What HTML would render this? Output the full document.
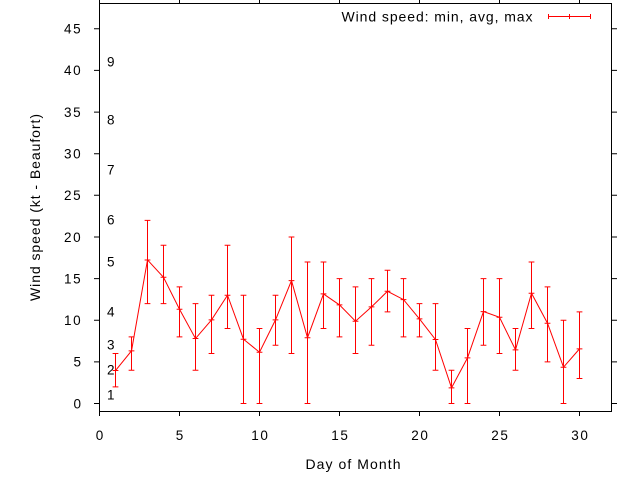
<!DOCTYPE html>
<html>
<head>
<meta charset="utf-8">
<style>
  html, body { margin: 0; padding: 0; background: #fff; }
  svg { display: block; }
  text { font-family: "Liberation Sans", "DejaVu Sans", sans-serif; font-size: 14px; fill: #000; }
  text.n { font-size: 13.5px; }
</style>
</head>
<body>
<svg width="640" height="480" viewBox="0 0 640 480" xmlns="http://www.w3.org/2000/svg">
  <rect x="0" y="0" width="640" height="480" fill="#fff"/>

  <!-- border -->
  <rect x="99.5" y="3.5" width="512" height="408" fill="none" stroke="#000" stroke-width="1"/>

  <!-- ticks -->
  <g stroke="#000" stroke-width="1">
    <path d="M94 403.5H99 M94 361.9H99 M94 320.2H99 M94 278.6H99 M94 237H99 M94 195.3H99 M94 153.7H99 M94 112.1H99 M94 70.4H99 M94 28.8H99"/>
    <path d="M612 403.5H617 M612 361.9H617 M612 320.2H617 M612 278.6H617 M612 237H617 M612 195.3H617 M612 153.7H617 M612 112.1H617 M612 70.4H617 M612 28.8H617"/>
    <path d="M99.5 412V416 M179.5 412V416 M259.5 412V416 M339.5 412V416 M419.5 412V416 M499.5 412V416 M579.5 412V416"/>
    <path d="M99.5 0V3 M179.5 0V3 M259.5 0V3 M339.5 0V3 M419.5 0V3 M499.5 0V3 M579.5 0V3"/>
  </g>

  <!-- y tick labels -->
  <text class="n" x="81" y="408.3" text-anchor="end">0</text>
  <text class="n" x="81" y="366.7" text-anchor="end">5</text>
  <text class="n" x="64" y="325.0" textLength="16.7" lengthAdjust="spacing">10</text>
  <text class="n" x="64" y="283.4" textLength="16.7" lengthAdjust="spacing">15</text>
  <text class="n" x="64" y="241.8" textLength="16.7" lengthAdjust="spacing">20</text>
  <text class="n" x="64" y="200.1" textLength="16.7" lengthAdjust="spacing">25</text>
  <text class="n" x="64" y="158.5" textLength="16.7" lengthAdjust="spacing">30</text>
  <text class="n" x="64" y="116.9" textLength="16.7" lengthAdjust="spacing">35</text>
  <text class="n" x="64" y="75.2" textLength="16.7" lengthAdjust="spacing">40</text>
  <text class="n" x="64" y="33.6" textLength="16.7" lengthAdjust="spacing">45</text>

  <!-- x tick labels -->
  <text class="n" x="99.5" y="440" text-anchor="middle">0</text>
  <text class="n" x="179.5" y="440" text-anchor="middle">5</text>
  <text class="n" x="251.2" y="440" textLength="16.7" lengthAdjust="spacing">10</text>
  <text class="n" x="331.2" y="440" textLength="16.7" lengthAdjust="spacing">15</text>
  <text class="n" x="411.2" y="440" textLength="16.7" lengthAdjust="spacing">20</text>
  <text class="n" x="491.2" y="440" textLength="16.7" lengthAdjust="spacing">25</text>
  <text class="n" x="571.2" y="440" textLength="16.7" lengthAdjust="spacing">30</text>

  <!-- axis labels -->
  <text x="305.5" y="469" textLength="95" lengthAdjust="spacing">Day of Month</text>
  <text transform="translate(40,301) rotate(-90)" x="0" y="0" textLength="187" lengthAdjust="spacing">Wind speed (kt - Beaufort)</text>

  <!-- Beaufort labels -->
  <text class="n" x="107" y="399.5">1</text>
  <text class="n" x="107" y="374.5">2</text>
  <text class="n" x="107" y="349.5">3</text>
  <text class="n" x="107" y="316.4">4</text>
  <text class="n" x="107" y="266.5">5</text>
  <text class="n" x="107" y="224.6">6</text>
  <text class="n" x="107" y="174.7">7</text>
  <text class="n" x="107" y="124.7">8</text>
  <text class="n" x="107" y="66.4">9</text>

  <!-- legend -->
  <text x="341.5" y="21.5" textLength="191" lengthAdjust="spacing">Wind speed: min, avg, max</text>
  <g stroke="#ff0000" fill="none" stroke-width="1">
    <path d="M548 16.5H591"/>
    <path d="M548.5 14V19 M569.5 14V19 M590.5 14V19"/>
  </g>

  <!-- data: x(d)=99.5+16d, y(v)=403.5-8.3265v -->
  <g transform="translate(99.5,403.5) scale(16,-8.3265)">
    <path fill="none" stroke="#ff0000" stroke-width="1" vector-effect="non-scaling-stroke" d="
      M1,2V6 M0.82,2H1.18 M0.82,6H1.18 M0.82,3.96H1.18
      M2,4V8 M1.82,4H2.18 M1.82,8H2.18 M1.82,6.32H2.18
      M3,12V22 M2.82,12H3.18 M2.82,22H3.18 M2.82,17.24H3.18
      M4,12V19 M3.82,12H4.18 M3.82,19H4.18 M3.82,15.16H4.18
      M5,8V14 M4.82,8H5.18 M4.82,14H5.18 M4.82,11.32H5.18
      M6,4V12 M5.82,4H6.18 M5.82,12H6.18 M5.82,7.8H6.18
      M7,6V13 M6.82,6H7.18 M6.82,13H7.18 M6.82,10.04H7.18
      M8,9V19 M7.82,9H8.18 M7.82,19H8.18 M7.82,13H8.18
      M9,0V13 M8.82,0H9.18 M8.82,13H9.18 M8.82,7.72H9.18
      M10,0V9 M9.82,0H10.18 M9.82,9H10.18 M9.82,6.16H10.18
      M11,7V13 M10.82,7H11.18 M10.82,13H11.18 M10.82,10.04H11.18
      M12,6V20 M11.82,6H12.18 M11.82,20H12.18 M11.82,14.76H12.18
      M13,0V17 M12.82,0H13.18 M12.82,17H13.18 M12.82,7.9H13.18
      M14,9V17 M13.82,9H14.18 M13.82,17H14.18 M13.82,13.16H14.18
      M15,8V15 M14.82,8H15.18 M14.82,15H15.18 M14.82,11.84H15.18
      M16,6V14 M15.82,6H16.18 M15.82,14H16.18 M15.82,9.88H16.18
      M17,7V15 M16.82,7H17.18 M16.82,15H17.18 M16.82,11.6H17.18
      M18,11V16 M17.82,11H18.18 M17.82,16H18.18 M17.82,13.48H18.18
      M19,8V15 M18.82,8H19.18 M18.82,15H19.18 M18.82,12.48H19.18
      M20,8V12 M19.82,8H20.18 M19.82,12H20.18 M19.82,10.16H20.18
      M21,4V12 M20.82,4H21.18 M20.82,12H21.18 M20.82,7.68H21.18
      M22,0V4 M21.82,0H22.18 M21.82,4H22.18 M21.82,1.88H22.18
      M23,0V9 M22.82,0H23.18 M22.82,9H23.18 M22.82,5.48H23.18
      M24,7V15 M23.82,7H24.18 M23.82,15H24.18 M23.82,11.04H24.18
      M25,6V15 M24.82,6H25.18 M24.82,15H25.18 M24.82,10.36H25.18
      M26,4V9 M25.82,4H26.18 M25.82,9H26.18 M25.82,6.44H26.18
      M27,9V17 M26.82,9H27.18 M26.82,17H27.18 M26.82,13.24H27.18
      M28,5V14 M27.82,5H28.18 M27.82,14H28.18 M27.82,9.64H28.18
      M29,0V10 M28.82,0H29.18 M28.82,10H29.18 M28.82,4.36H29.18
      M30,3V11 M29.82,3H30.18 M29.82,11H30.18 M29.82,6.56H30.18"/>
    <polyline fill="none" stroke="#ff0000" stroke-width="1" vector-effect="non-scaling-stroke" points="
      1,3.96 2,6.32 3,17.24 4,15.16 5,11.32 6,7.8 7,10.04 8,13 9,7.72 10,6.16
      11,10.04 12,14.76 13,7.9 14,13.16 15,11.84 16,9.88 17,11.6 18,13.48 19,12.48 20,10.16
      21,7.68 22,1.88 23,5.48 24,11.04 25,10.36 26,6.44 27,13.24 28,9.64 29,4.36 30,6.56"/>
  </g>
</svg>
</body>
</html>
